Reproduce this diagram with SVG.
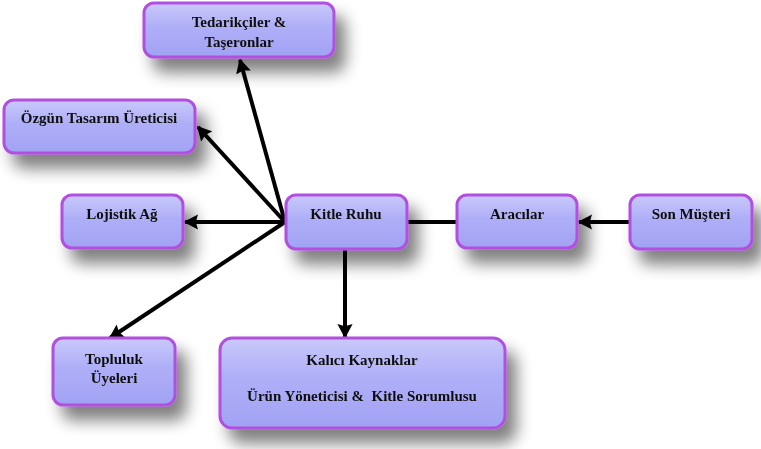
<svg xmlns="http://www.w3.org/2000/svg" width="761" height="449" viewBox="0 0 761 449">
<defs>
<linearGradient id="g" x1="0" y1="0" x2="0" y2="1">
<stop offset="0" stop-color="#c9c9fb"/>
<stop offset="0.45" stop-color="#aeaef8"/>
<stop offset="1" stop-color="#a2a2f4"/>
</linearGradient>
<filter id="sh" x="-20%" y="-30%" width="160%" height="190%">
<feGaussianBlur in="SourceAlpha" stdDeviation="8"/>
<feOffset dx="10" dy="14" result="b"/>
<feComponentTransfer><feFuncA type="linear" slope="0.5"/></feComponentTransfer>
<feMerge><feMergeNode/><feMergeNode in="SourceGraphic"/></feMerge>
</filter>
<marker id="ah" viewBox="0 0 10 10" refX="9" refY="5" markerWidth="3.6" markerHeight="3.8" orient="auto" markerUnits="strokeWidth" preserveAspectRatio="none">
<path d="M0,0 L10,5 L0,10 L1.5,5 z" fill="#000"/>
</marker>
<style>
.box{fill:url(#g);stroke:#b14fe0;stroke-width:3;}
.t{font-family:"Liberation Serif","Times New Roman",serif;font-weight:bold;font-size:15px;fill:#111;text-anchor:middle;}
.c{stroke:#000;stroke-width:4;fill:none;}
.ca{stroke:#000;stroke-width:4;fill:none;marker-end:url(#ah);}
</style>
</defs>
<rect width="761" height="449" fill="#fff"/>
<g id="connectors">
<line class="ca" x1="285" y1="222" x2="240" y2="60"/>
<line class="ca" x1="285" y1="222" x2="198" y2="127"/>
<line class="ca" x1="285" y1="222" x2="185" y2="222"/>
<line class="ca" x1="285" y1="222" x2="110" y2="338"/>
<line class="ca" x1="345" y1="249" x2="345" y2="337"/>
<line class="c" x1="407" y1="222" x2="457" y2="222"/>
<line class="ca" x1="630" y1="222" x2="579" y2="222"/>
</g>
<g id="tedarikciler" filter="url(#sh)">
<rect class="box" x="144" y="3" width="190" height="54" rx="10"/>
<text class="t" x="239" y="27">Tedarikçiler &amp;</text>
<text class="t" x="239" y="47">Taşeronlar</text>
</g>
<g id="ozgun" filter="url(#sh)">
<rect class="box" x="4" y="100" width="191" height="53" rx="10"/>
<text class="t" x="99" y="123">Özgün Tasarım Üreticisi</text>
</g>
<g id="lojistik" filter="url(#sh)">
<rect class="box" x="62" y="195" width="121" height="53" rx="10"/>
<text class="t" x="122" y="219">Lojistik Ağ</text>
</g>
<g id="kitle" filter="url(#sh)">
<rect class="box" x="286" y="195" width="121" height="54" rx="10"/>
<text class="t" x="346" y="219">Kitle Ruhu</text>
</g>
<g id="aracilar" filter="url(#sh)">
<rect class="box" x="457" y="195" width="120" height="53" rx="10"/>
<text class="t" x="517" y="219">Aracılar</text>
</g>
<g id="sonmusteri" filter="url(#sh)">
<rect class="box" x="630" y="195" width="122" height="54" rx="10"/>
<text class="t" x="691" y="219">Son Müşteri</text>
</g>
<g id="topluluk" filter="url(#sh)">
<rect class="box" x="53" y="338" width="122" height="67" rx="10"/>
<text class="t" x="114" y="364">Topluluk</text>
<text class="t" x="114" y="383">Üyeleri</text>
</g>
<g id="kalici" filter="url(#sh)">
<rect class="box" x="220" y="338" width="285" height="90" rx="12"/>
<text class="t" x="362" y="365">Kalıcı Kaynaklar</text>
<text class="t" x="362" y="401" xml:space="preserve">Ürün Yöneticisi &amp;  Kitle Sorumlusu</text>
</g>
</svg>
